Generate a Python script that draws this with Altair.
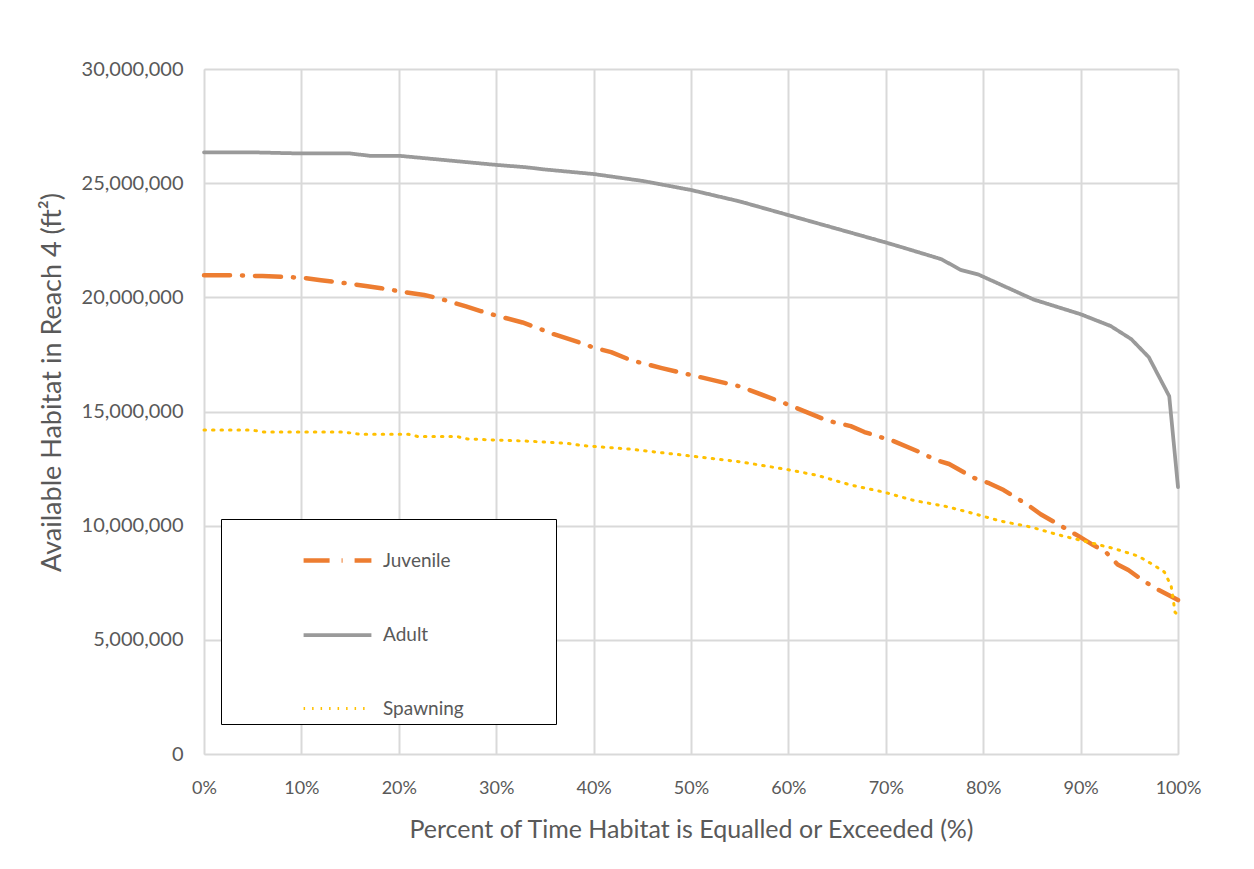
import altair as alt
import pandas as pd

# ---- data ----
series_names = ["Juvenile", "Adult", "Spawning"]
series_colors = ["#ED7D31", "#9A9A9A", "#FFC000"]

juv_x = [0, 2.8, 6, 9, 10.5, 12, 14.9, 16.6, 18.2, 21, 22.6, 24, 26.9, 28.4, 30, 32.7, 34.3, 35.8,
         38.7, 40, 41.8, 43.8, 47, 50, 55, 60, 64, 66.4, 67.8, 69.3, 70.8, 73.6, 75, 76.5, 79,
         80.6, 82.1, 84.6, 85.9, 87.3, 89.8, 91.3, 92.6, 93.8, 94.9, 96.2, 97.5, 100]
juv_y = [20.97, 20.97, 20.93, 20.88, 20.84, 20.75, 20.6, 20.5, 20.4, 20.2, 20.1, 19.97, 19.6, 19.4,
         19.2, 18.9, 18.65, 18.4, 18.0, 17.8, 17.6, 17.25, 16.9, 16.6, 16.1, 15.3, 14.6, 14.36,
         14.1, 13.9, 13.7, 13.2, 12.9, 12.7, 12.1, 11.86, 11.56, 10.9, 10.5, 10.16, 9.54, 9.15,
         8.84, 8.3, 8.06, 7.66, 7.3, 6.74]

adu_x = [0, 5, 10, 15, 17, 20, 22.5, 25, 30, 33, 35, 40, 45, 50, 55, 60, 65, 70, 71.6, 75.7,
         77.7, 79.5, 85.2, 90, 93.1, 95.2, 97, 99.1, 100]
adu_y = [26.35, 26.35, 26.3, 26.3, 26.2, 26.2, 26.1, 26.0, 25.8, 25.7, 25.6, 25.4, 25.1, 24.7,
         24.2, 23.6, 23.0, 22.4, 22.2, 21.67, 21.2, 21.0, 19.9, 19.26, 18.74, 18.17, 17.38,
         15.67, 11.69]

spa_x = [0, 4.8, 6.2, 14.4, 16, 21, 22, 26, 27, 29.8, 33.3, 37.4, 39, 43.8, 50, 55, 60, 63, 66.4,
         69.8, 72.9, 76, 78.4, 81.8, 84.9, 87.7, 90.3, 93.4, 95.9, 97.4, 98.6, 99.3, 99.7, 100]
spa_y = [14.19, 14.19, 14.1, 14.1, 14.0, 14.0, 13.9, 13.9, 13.8, 13.75, 13.7, 13.6, 13.5, 13.35,
         13.05, 12.8, 12.45, 12.2, 11.78, 11.47, 11.1, 10.86, 10.6, 10.2, 9.94, 9.6, 9.33, 9.0,
         8.67, 8.3, 7.97, 7.36, 6.2, 6.1]

rows = []
for name, xs, ys in [("Juvenile", juv_x, juv_y), ("Adult", adu_x, adu_y), ("Spawning", spa_x, spa_y)]:
    for i, (a, b) in enumerate(zip(xs, ys)):
        rows.append({"series": name, "pct": a / 100.0, "area": b * 1_000_000, "order": i})
df = pd.DataFrame(rows)

FONT = "Lato"
TXT = "#595959"

chart = alt.Chart(df).mark_line(strokeCap="round", strokeJoin="round").encode(
    x=alt.X("pct:Q",
            scale=alt.Scale(domain=[0, 1], nice=False),
            axis=alt.Axis(format=".0%", values=[i / 10 for i in range(11)], labelFlush=False,
                          title="Percent of Time Habitat is Equalled or Exceeded  (%)",
                          grid=True, gridColor="#D9D9D9", gridWidth=2, domain=False, ticks=False,
                          labelPadding=25, titlePadding=20, labelFontSize=18, titleFontSize=25,
                          labelColor=TXT, titleColor=TXT, labelFont=FONT, titleFont=FONT,
                          titleFontWeight="normal")),
    y=alt.Y("area:Q",
            scale=alt.Scale(domain=[0, 30_000_000], nice=False),
            axis=alt.Axis(format=",.0f", values=[i * 5_000_000 for i in range(7)],
                          title="Available Habitat in Reach 4 (ft²)", titleY=313,
                          grid=True, gridColor="#D9D9D9", gridWidth=2, domain=False, ticks=False,
                          labelPadding=21, titlePadding=15, labelFontSize=20, titleFontSize=27,
                          labelColor=TXT, titleColor=TXT, labelFont=FONT, titleFont=FONT,
                          titleFontWeight="normal")),
    color=alt.Color("series:N",
                    scale=alt.Scale(domain=series_names, range=series_colors),
                    legend=alt.Legend(title=" ", titleOrient="right", titlePadding=87,
                                      orient="none", legendX=17, legendY=450,
                                      strokeColor="black", fillColor="white",
                                      padding=5, rowPadding=28, symbolType="stroke",
                                      symbolSize=4600, symbolStrokeWidth=3.5, symbolOffset=75,
                                      labelOffset=9, labelFontSize=19, labelColor=TXT,
                                      labelFont=FONT)),
    strokeDash=alt.StrokeDash("series:N",
                              scale=alt.Scale(domain=series_names,
                                              range=[[26, 12, 1, 12], [1, 0], [1.5, 7]]),
                              legend=None),
    strokeWidth=alt.StrokeWidth("series:N",
                                scale=alt.Scale(domain=series_names, range=[4.5, 3, 4.5]),
                                legend=None),
    order="order:Q",
    detail="series:N",
).properties(width=974, height=685, padding={"left": 30, "top": 51, "right": 20, "bottom": 20}).configure_view(
    stroke=None
).configure_legend(strokeWidth=1.5).configure(background="white")

chart.save("out.html", embed_options={"renderer": "svg", "actions": False})
